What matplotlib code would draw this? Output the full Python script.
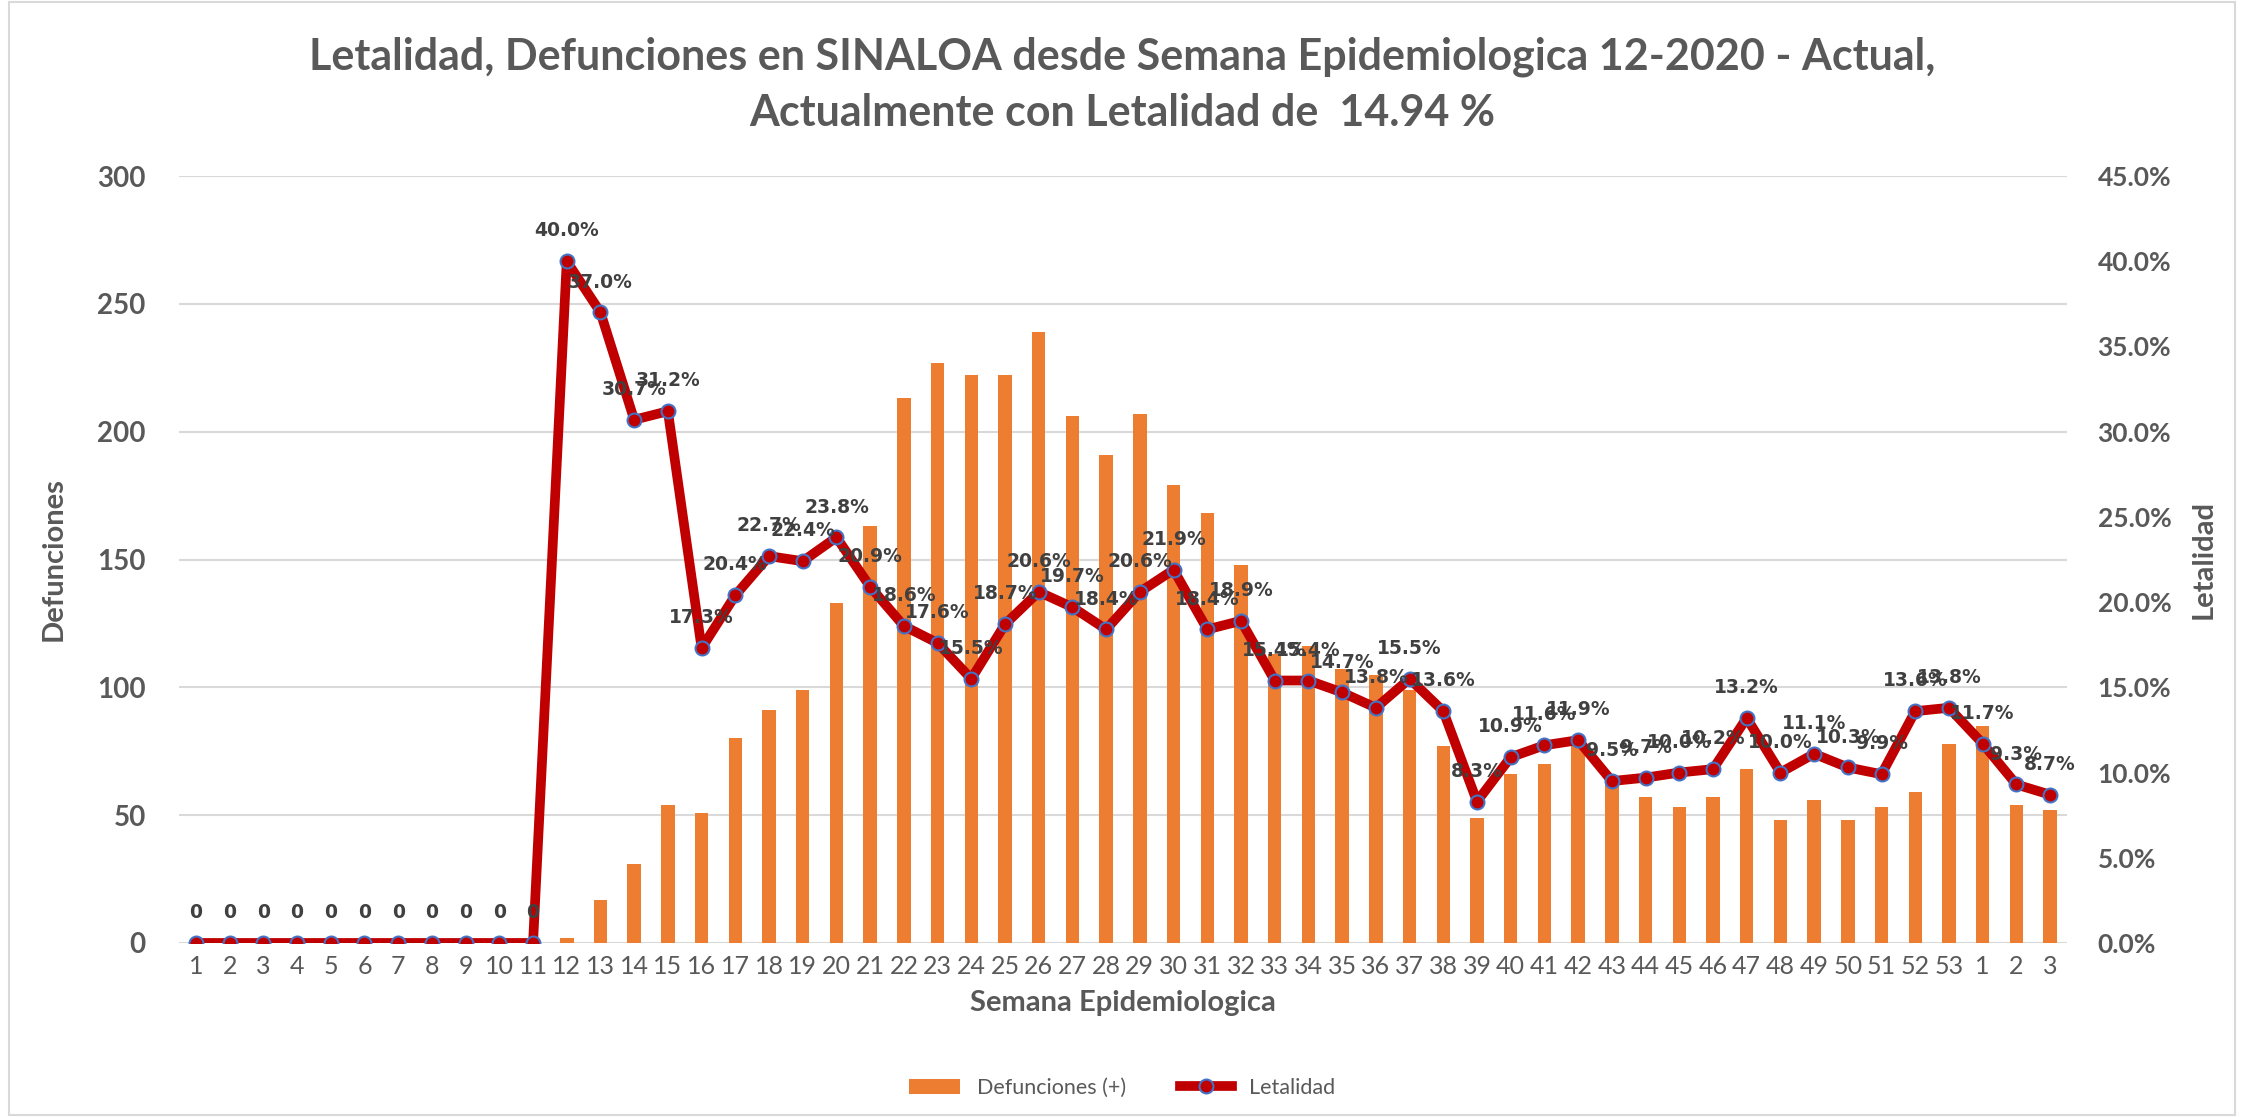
import numpy as np
import matplotlib
matplotlib.use("Agg")
import matplotlib.pyplot as plt
from matplotlib.lines import Line2D
from matplotlib.patches import Patch, Rectangle

plt.rcParams['font.family'] = ['Lato', 'DejaVu Sans']

semanas = [str(i) for i in range(1, 54)] + ['1', '2', '3']

defunciones = [0, 0, 0, 0, 0, 0, 0, 0, 0, 0, 0, 2, 17, 31, 54, 51, 80, 91, 99, 133,
               163, 213, 227, 222, 222, 239, 206, 191, 207, 179, 168, 148, 113, 116, 107, 105,
               99, 77, 49, 66, 70, 78, 64, 57, 53, 57, 68, 48, 56, 48, 53, 59, 78, 85, 54, 52]

letalidad = [0, 0, 0, 0, 0, 0, 0, 0, 0, 0, 0, 40.0, 37.0, 30.7, 31.2, 17.3, 20.4, 22.7, 22.4, 23.8,
             20.9, 18.6, 17.6, 15.5, 18.7, 20.6, 19.7, 18.4, 20.6, 21.9, 18.4, 18.9, 15.4, 15.4, 14.7, 13.8,
             15.5, 13.6, 8.3, 10.9, 11.6, 11.9, 9.5, 9.7, 10.0, 10.2, 13.2, 10.0, 11.1, 10.3, 9.9, 13.6,
             13.8, 11.7, 9.3, 8.7]

gris = '#595959'
naranja = '#ED7D31'
rojo = '#C00000'
azul = '#4472C4'

fig = plt.figure(figsize=(22.44, 11.17), dpi=100)
ax = fig.add_axes([0.0798, 0.1558, 0.8413, 0.6866])
ax2 = ax.twinx()

x = np.arange(len(semanas))
ax.bar(x, defunciones, width=0.4, color=naranja, zorder=2)
ax.set_ylim(0, 300)
ax.set_yticks(range(0, 301, 50))
ax.set_xlim(-0.5, len(semanas) - 0.5)
ax.set_xticks(x)
ax.set_xticklabels(semanas)
ax.grid(axis='y', color='#D9D9D9', linewidth=1.5, zorder=0)
ax.set_axisbelow(True)

let_frac = np.array(letalidad) / 100
ax2.plot(x, let_frac, color=rojo, linewidth=7, marker='o', markersize=10,
         markerfacecolor=rojo, markeredgecolor=azul, markeredgewidth=1.5, zorder=3)
ax2.set_ylim(0, 0.45)
ax2.set_yticks(np.arange(0, 0.451, 0.05))
ax2.set_yticklabels([f'{v*100:.1f}%' for v in np.arange(0, 0.451, 0.05)])

for xi, v in zip(x, letalidad):
    txt = '0' if v == 0 else f'{v:.1f}%'
    ax2.annotate(txt, (xi, v / 100), xytext=(0, 15), textcoords='offset points',
                 ha='center', va='bottom', fontsize=13.5, fontweight='bold', color='#404040',
                 family='DejaVu Sans', zorder=4)

for a in (ax, ax2):
    for s in a.spines.values():
        s.set_visible(False)
    a.tick_params(length=0)

ax.tick_params(axis='y', labelsize=20, labelcolor=gris, pad=24)
ax.tick_params(axis='x', labelsize=18, labelcolor=gris, pad=9)
ax2.tick_params(axis='y', labelsize=19, labelcolor=gris, pad=22)
for lbl in ax.get_yticklabels() + ax2.get_yticklabels():
    lbl.set_fontweight('bold')

ax.set_ylabel('Defunciones', fontsize=21, fontweight='bold', color=gris, labelpad=22)
ax2.set_ylabel('Letalidad', fontsize=21, fontweight='bold', color=gris, labelpad=14)
ax.set_xlabel('Semana Epidemiologica', fontsize=21, fontweight='bold', color=gris, labelpad=8)

fig.text(0.5, 0.949, 'Letalidad, Defunciones en SINALOA desde Semana Epidemiologica 12-2020 - Actual,',
         ha='center', va='center', fontsize=31, fontweight='bold', color=gris)
fig.text(0.5, 0.899, 'Actualmente con Letalidad de  14.94 %',
         ha='center', va='center', fontsize=31, fontweight='bold', color=gris)

handles = [Patch(facecolor=naranja, edgecolor='none'),
           Line2D([0], [0], color=rojo, linewidth=7, marker='o', markersize=10,
                  markerfacecolor=rojo, markeredgecolor=azul, markeredgewidth=1.5)]
fig.legend(handles, ['Defunciones (+)', 'Letalidad'], loc='center', bbox_to_anchor=(0.5, 0.026),
           ncol=2, frameon=False, fontsize=15.5, labelcolor=gris, handlelength=2.4, columnspacing=2.5)

fig.add_artist(Rectangle((0.004, 0.002), 0.992, 0.996, transform=fig.transFigure,
                         fill=False, edgecolor='#D9D9D9', linewidth=1.5))

fig.savefig('out.png', dpi=100)
